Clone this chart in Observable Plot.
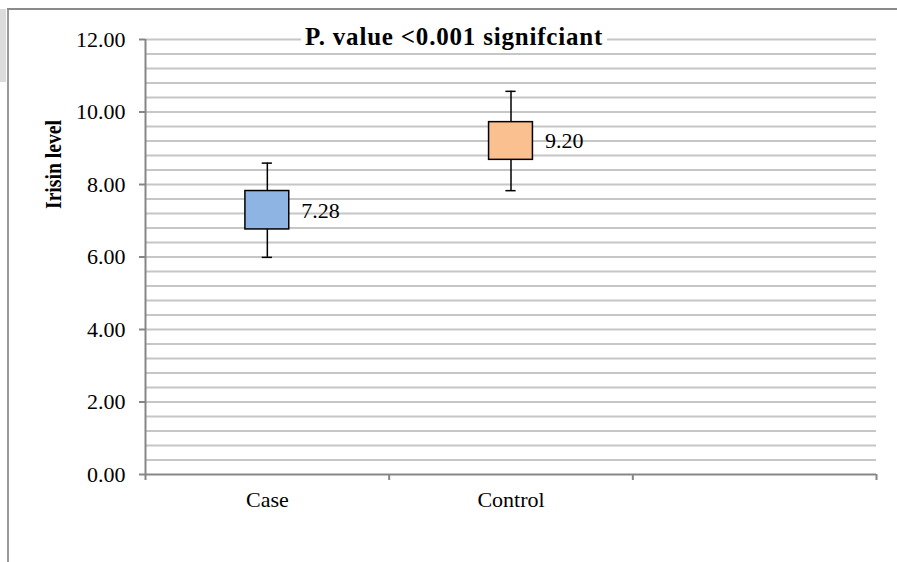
<!DOCTYPE html>
<html><head><meta charset="utf-8">
<script src="https://cdn.jsdelivr.net/npm/d3@7"></script>
<script src="https://cdn.jsdelivr.net/npm/@observablehq/plot@0.6"></script>
<style>
html,body{margin:0;padding:0;background:#fff;}
#wrap{position:relative;width:897px;height:562px;overflow:hidden;}
#wrap svg{position:absolute;left:0;top:0;}
.deco{position:absolute;}
</style></head><body>
<div id="wrap">
 <div class="deco" style="left:0;top:9px;width:6px;height:73px;background:#dcdcdc"></div>
</div>
<script>
// ---- data ----
const groups = ["Case", "Control"];
const means = [7.28, 9.20];
const meanLabels = ["7.28", "9.20"];
const boxLow = [6.76, 8.68];
const boxHigh = [7.82, 9.72];
const whiskerLow = [5.99, 7.83];
const whiskerHigh = [8.59, 10.57];
const fills = ["#8DB4E2", "#FAC090"];
const yTicks = [0, 2, 4, 6, 8, 10, 12];
const slotCount = 3; // Case, Control, empty third slot
const titleText = "P. value <0.001 signifciant";
const yLabel = "Irisin level";

// ---- table ----
const rows = groups.map((g, i) => ({
  g, pos: i + 0.5, mean: means[i], label: meanLabels[i],
  q1: boxLow[i], q3: boxHigh[i], lo: whiskerLow[i], hi: whiskerHigh[i], color: fills[i]
}));
const caps = rows.flatMap(r => [{pos: r.pos, v: r.lo}, {pos: r.pos, v: r.hi}]);
const gridVals = d3.range(1, 31).map(i => +(i * 0.4).toFixed(1));
const bounds = d3.range(0, slotCount + 1);

const boxHalf = 0.09, capHalf = 0.021;
const axisGray = "#868686", gridGray = "#c6c6c6";

const chart = Plot.plot({
  width: 897, height: 562,
  marginLeft: 145, marginRight: 21, marginTop: 39, marginBottom: 88,
  style: {fontFamily: "'Liberation Serif', 'Times New Roman', serif", fontSize: "22px", color: "black", background: "transparent"},
  x: {type: "linear", domain: [0, slotCount], axis: null},
  y: {domain: [0, 12], axis: null},
  color: {type: "identity"},
  marks: [
    Plot.ruleY(gridVals, {stroke: gridGray, strokeWidth: 2}),
    Plot.ruleY([0], {stroke: axisGray, strokeWidth: 2}),
    Plot.ruleX([0], {stroke: axisGray, strokeWidth: 2}),
    Plot.axisY({ticks: yTicks, tickFormat: d => d.toFixed(2), tickSize: 6, tickPadding: 14,
      stroke: axisGray, fill: "black", strokeWidth: 2, fontSize: 22, label: null}),
    Plot.axisX({ticks: bounds, tickFormat: () => "", tickSize: 6, stroke: axisGray, strokeWidth: 2, label: null}),
    Plot.text(groups, {x: (d, i) => i + 0.5, frameAnchor: "bottom", lineAnchor: "middle", dy: 25, fontSize: 22, fill: "black"}),
    Plot.ruleX(rows, {x: "pos", y1: "lo", y2: "hi", stroke: "black", strokeWidth: 1.5}),
    Plot.ruleY(caps, {y: "v", x1: d => d.pos - capHalf, x2: d => d.pos + capHalf, stroke: "black", strokeWidth: 1.5}),
    Plot.rect(rows, {x1: d => d.pos - boxHalf, x2: d => d.pos + boxHalf, y1: "q1", y2: "q3", fill: "color", stroke: "black", strokeWidth: 1.5}),
    Plot.text(rows, {x: d => d.pos + boxHalf, y: "mean", text: "label", textAnchor: "start", lineAnchor: "middle", dx: 12, fontSize: 22, fill: "black"}),
    Plot.text([titleText], {frameAnchor: "top", textAnchor: "middle", lineAnchor: "middle", dx: -57, dy: -3, fontSize: 25, fontWeight: "bold", fill: "black", className: "ttl"}),
    Plot.text([yLabel], {frameAnchor: "top-left", textAnchor: "middle", lineAnchor: "middle", dx: -92, dy: 125, rotate: -90, fontSize: 23, fontWeight: "bold", fill: "black", className: "ylab"})
  ]
});
document.getElementById("wrap").appendChild(chart);

// y label: compress along its length like the reference
const yl = chart.querySelector(".ylab text");
if (yl) { yl.setAttribute("textLength", "89"); yl.setAttribute("lengthAdjust", "spacingAndGlyphs"); }

// title: slight letter spacing and white backing
const t = chart.querySelector(".ttl text");
if (t) {
  t.setAttribute("letter-spacing", "0.8");
  const bb = t.getBBox();
  const g = t.parentNode;
  const ns = "http://www.w3.org/2000/svg";
  const r = document.createElementNS(ns, "rect");
  const tr = t.getAttribute("transform");
  if (tr) r.setAttribute("transform", tr);
  r.setAttribute("x", bb.x - 4); r.setAttribute("y", bb.y);
  r.setAttribute("width", bb.width + 8); r.setAttribute("height", bb.height);
  r.setAttribute("fill", "white");
  g.insertBefore(r, t);
}

// outer chart border (left and top)
const d1 = document.createElement("div");
d1.className = "deco"; d1.style.cssText = "left:7px;top:9px;width:2px;height:553px;background:#9a9a9a";
const d2 = document.createElement("div");
d2.className = "deco"; d2.style.cssText = "left:7px;top:8px;width:890px;height:2px;background:#8a8a8a";
document.getElementById("wrap").append(d1, d2);
</script>
</body></html>
